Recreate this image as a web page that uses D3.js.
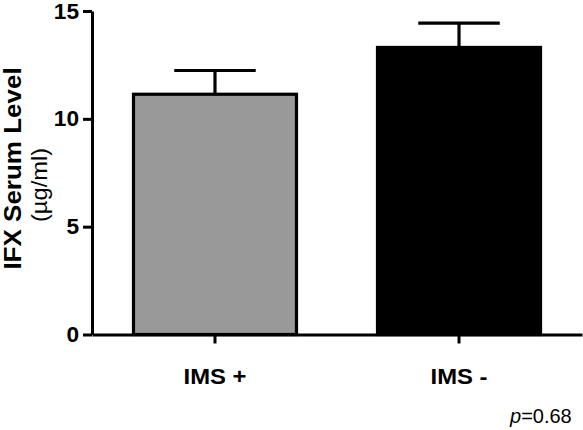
<!DOCTYPE html>
<html>
<head>
<meta charset="utf-8">
<script src="https://cdn.jsdelivr.net/npm/d3@7"></script>
<style>
  html, body { margin: 0; padding: 0; background: #fff; }
  svg { display: block; }
  text { font-family: "Liberation Sans", Arial, sans-serif; fill: #000; }
</style>
</head>
<body>
<svg id="chart" width="583" height="430"></svg>
<script>
const categories = ["IMS +", "IMS -"];
const means = [11.14, 13.31];
const errUpper = [12.24, 14.44];
const barColors = ["#999999", "#000000"];
const yTicks = [0, 5, 10, 15];
const yTitle = "IFX Serum Level";
const yUnit = "(\u00b5g/ml)";
const pText = "0.68";

const svg = d3.select("#chart");

const y = d3.scaleLinear().domain([0, 15]).range([334.5, 11]);
const x = d3.scaleBand().domain(categories).range([92, 582])
  .paddingInner(0.332).paddingOuter(0.17);

function stretch(sel, f) {
  sel.each(function() {
    const w = this.getComputedTextLength();
    d3.select(this).attr("textLength", w * f).attr("lengthAdjust", "spacingAndGlyphs");
  });
}

// bars
svg.append("g").selectAll("rect").data(categories).join("rect")
  .attr("x", d => x(d))
  .attr("y", (d, i) => y(means[i]))
  .attr("width", x.bandwidth())
  .attr("height", (d, i) => y(0) - y(means[i]))
  .attr("fill", (d, i) => barColors[i])
  .attr("stroke", "#000")
  .attr("stroke-width", 3.2);

// error bars
const eg = svg.append("g").attr("stroke", "#000").attr("stroke-width", 3.2);
categories.forEach((c, i) => {
  const cx = x(c) + x.bandwidth() / 2;
  eg.append("line").attr("x1", cx).attr("x2", cx)
    .attr("y1", y(means[i])).attr("y2", y(errUpper[i]));
  eg.append("line").attr("x1", cx - x.bandwidth() / 4).attr("x2", cx + x.bandwidth() / 4)
    .attr("y1", y(errUpper[i])).attr("y2", y(errUpper[i]));
});

// y axis
const yAxis = svg.append("g").attr("transform", "translate(92,0)")
  .call(d3.axisLeft(y).tickValues(yTicks).tickSize(9).tickSizeOuter(0).tickPadding(4).tickFormat(d3.format("d")));
yAxis.selectAll("path, line").attr("stroke", "#000").attr("stroke-width", 3);
yAxis.selectAll("text").attr("font-size", 22).attr("font-weight", "bold")
  .attr("font-family", "Liberation Sans, Arial, sans-serif").attr("fill", "#000");
yAxis.selectAll("text").call(stretch, 1.03);

// x axis
const xAxis = svg.append("g").attr("transform", "translate(0,334.5)")
  .call(d3.axisBottom(x).tickSize(9).tickSizeOuter(0).tickPadding(25));
xAxis.selectAll("path, line").attr("stroke", "#000").attr("stroke-width", 3);
xAxis.selectAll("text").attr("font-size", 22.5).attr("font-weight", "bold")
  .attr("font-family", "Liberation Sans, Arial, sans-serif").attr("fill", "#000");
xAxis.selectAll("text").call(stretch, 1.06);

// y title
svg.append("text")
  .attr("transform", "translate(21,168.5) rotate(-90)")
  .attr("text-anchor", "middle")
  .attr("font-size", 23).attr("font-weight", "bold")
  .text(yTitle).call(stretch, 1.13);
svg.append("text")
  .attr("transform", "translate(47,185) rotate(-90)")
  .attr("text-anchor", "middle")
  .attr("font-size", 21.5)
  .text(yUnit).call(stretch, 1.1);

// p value
const pt = svg.append("text").attr("x", 510).attr("y", 423).attr("font-size", 20);
pt.append("tspan").attr("font-style", "italic").text("p");
pt.append("tspan").text("=" + pText);
</script>
</body>
</html>
